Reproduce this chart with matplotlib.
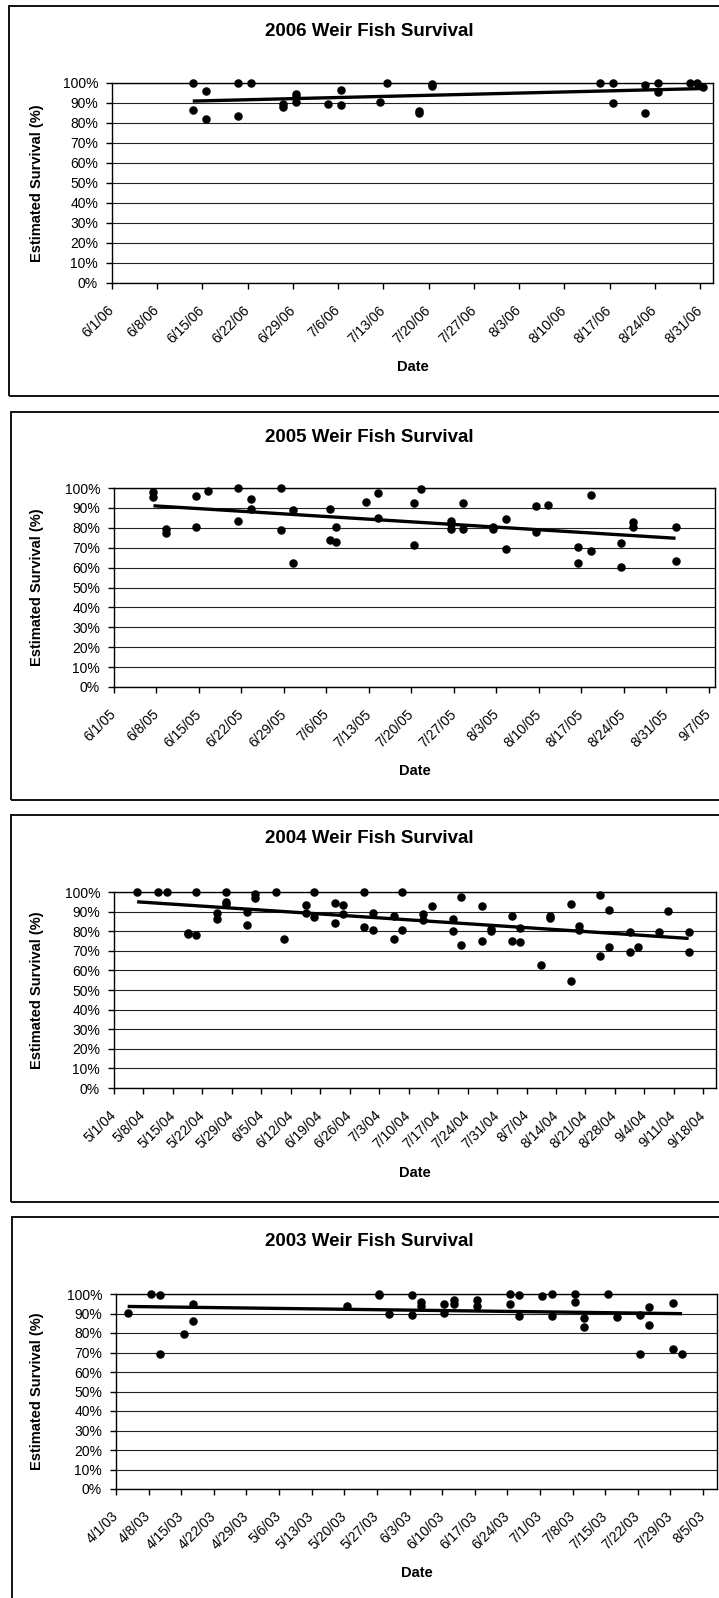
import numpy as np
import matplotlib
matplotlib.use("Agg")
import matplotlib.pyplot as plt
import matplotlib.dates as mdates
from matplotlib.patches import Rectangle
from matplotlib.ticker import FuncFormatter
from datetime import date

plt.rcParams['font.family'] = ['Liberation Sans', 'DejaVu Sans']

# 2006 survey
dates_2006 = ['2006-06-13', '2006-06-13', '2006-06-15', '2006-06-15', '2006-06-20', '2006-06-20',
              '2006-06-22', '2006-06-27', '2006-06-27', '2006-06-29', '2006-06-29', '2006-06-29',
              '2006-07-04', '2006-07-06', '2006-07-06', '2006-07-12', '2006-07-13', '2006-07-18',
              '2006-07-18', '2006-07-20', '2006-07-20', '2006-08-15', '2006-08-17', '2006-08-17',
              '2006-08-22', '2006-08-22', '2006-08-24', '2006-08-24', '2006-08-29', '2006-08-30',
              '2006-08-31']
surv_2006 = [100, 86.6, 96.2, 82, 100, 83.6,
             100, 89.5, 88, 94.5, 93, 90.5,
             89.5, 96.5, 88.8, 90.5, 100, 86,
             84.8, 99.5, 98.5, 100, 100, 90,
             99, 84.8, 100, 95.7, 100, 100,
             98.2]

# 2005 survey
dates_2005 = ['2005-06-07', '2005-06-07', '2005-06-09', '2005-06-09', '2005-06-14', '2005-06-14',
              '2005-06-16', '2005-06-21', '2005-06-21', '2005-06-23', '2005-06-23', '2005-06-28',
              '2005-06-28', '2005-06-30', '2005-06-30', '2005-07-06', '2005-07-06', '2005-07-07',
              '2005-07-07', '2005-07-12', '2005-07-14', '2005-07-14', '2005-07-20', '2005-07-20',
              '2005-07-21', '2005-07-26', '2005-07-26', '2005-07-26', '2005-07-28', '2005-07-28',
              '2005-08-02', '2005-08-02', '2005-08-04', '2005-08-04', '2005-08-09', '2005-08-09',
              '2005-08-11', '2005-08-16', '2005-08-16', '2005-08-18', '2005-08-18', '2005-08-23',
              '2005-08-23', '2005-08-25', '2005-08-25', '2005-09-01', '2005-09-01']
surv_2005 = [98.2, 95.5, 79.6, 77.6, 96, 80.4,
             98.5, 100, 83.2, 94.6, 89.6, 100,
             78.7, 89.1, 62.5, 89.6, 74, 80.4,
             72.7, 93, 97.7, 84.8, 92.6, 71.5,
             99.7, 83.6, 82, 79.2, 92.3, 79.2,
             80.6, 79.2, 84.4, 69.3, 91, 77.7,
             91.3, 70.2, 62.5, 96.6, 68.3, 72.4,
             60.3, 82.9, 80.4, 80.4, 63.3]

# 2004 survey
dates_2004 = ['2004-05-06', '2004-05-11', '2004-05-13', '2004-05-18', '2004-05-18', '2004-05-20',
              '2004-05-20', '2004-05-25', '2004-05-25', '2004-05-27', '2004-05-27', '2004-05-27',
              '2004-06-01', '2004-06-01', '2004-06-03', '2004-06-03', '2004-06-08', '2004-06-10',
              '2004-06-15', '2004-06-15', '2004-06-17', '2004-06-17', '2004-06-22', '2004-06-22',
              '2004-06-24', '2004-06-24', '2004-06-29', '2004-06-29', '2004-07-01', '2004-07-01',
              '2004-07-06', '2004-07-06', '2004-07-08', '2004-07-08', '2004-07-13', '2004-07-13',
              '2004-07-15', '2004-07-20', '2004-07-20', '2004-07-22', '2004-07-22', '2004-07-27',
              '2004-07-27', '2004-07-29', '2004-07-29', '2004-08-03', '2004-08-03', '2004-08-05',
              '2004-08-05', '2004-08-10', '2004-08-12', '2004-08-12', '2004-08-17', '2004-08-17',
              '2004-08-19', '2004-08-19', '2004-08-24', '2004-08-24', '2004-08-26', '2004-08-26',
              '2004-08-31', '2004-08-31', '2004-09-02', '2004-09-07', '2004-09-09', '2004-09-14',
              '2004-09-14']
surv_2004 = [100, 100, 100, 79, 78.5, 100,
             78, 89.5, 86.4, 100, 94.7, 93.9,
             89.6, 83.2, 98.8, 97.1, 100, 76,
             93.5, 89.3, 100, 87, 94.2, 84,
             93.5, 88.6, 100, 82.3, 89.5, 80.8,
             87.6, 75.9, 100, 80.4, 88.8, 85.7,
             92.7, 86.4, 79.9, 97.6, 72.8, 92.7,
             75, 81.3, 80.1, 87.9, 75, 81.6,
             74.5, 62.6, 87.8, 86.9, 93.7, 54.4,
             82.7, 80.6, 98.6, 67.5, 90.6, 71.9,
             79.4, 69.2, 71.8, 79.4, 90.3, 79.6,
             69.4]

# 2003 survey
dates_2003 = ['2003-04-03', '2003-04-08', '2003-04-10', '2003-04-10', '2003-04-15', '2003-04-17',
              '2003-04-17', '2003-05-20', '2003-05-27', '2003-05-27', '2003-05-29', '2003-06-03',
              '2003-06-03', '2003-06-05', '2003-06-05', '2003-06-10', '2003-06-10', '2003-06-12',
              '2003-06-12', '2003-06-17', '2003-06-17', '2003-06-24', '2003-06-24', '2003-06-26',
              '2003-06-26', '2003-07-01', '2003-07-03', '2003-07-03', '2003-07-08', '2003-07-08',
              '2003-07-10', '2003-07-10', '2003-07-15', '2003-07-17', '2003-07-22', '2003-07-22',
              '2003-07-24', '2003-07-24', '2003-07-29', '2003-07-29', '2003-07-31']
surv_2003 = [90.1, 100, 99.5, 69.4, 79.3, 95,
             86.3, 93.7, 100, 99.5, 89.6, 99.7,
             89.4, 96, 93.7, 94.7, 90.1, 97.1,
             94.7, 97, 93.8, 100, 95, 99.3,
             88.7, 99, 100, 88.9, 100, 95.9,
             87.7, 82.9, 100, 88, 89.4, 69.2,
             93.3, 84.3, 95.4, 72, 69.1]

titles = ["2006 Weir Fish Survival", "2005 Weir Fish Survival",
          "2004 Weir Fish Survival", "2003 Weir Fish Survival"]
axis_start = [date(2006, 6, 1), date(2005, 6, 1), date(2004, 5, 1), date(2003, 4, 1)]
axis_end = [date(2006, 9, 2), date(2005, 9, 8), date(2004, 9, 21), date(2003, 8, 8)]

# layout in pixels: panel box top/bottom/left, plot top/bottom/left/right, title y, "Date" y
layout = [
    (6, 396, 9, 83, 283, 112, 713, 31, 367),
    (412, 800, 11, 488, 687, 114, 715, 437, 771),
    (815, 1202, 11, 892, 1088, 114, 716, 839, 1173),
    (1217, 1605, 12, 1294, 1489, 116, 717, 1241, 1573),
]

W, H = 719, 1598
fig = plt.figure(figsize=(W / 100, H / 100), dpi=100)


def date_label(x, pos):
    d = mdates.num2date(x)
    return f"{d.month}/{d.day}/{d:%y}"


series = [(dates_2006, surv_2006), (dates_2005, surv_2005),
          (dates_2004, surv_2004), (dates_2003, surv_2003)]

for (dts, vals), title, start, end, lay in zip(series, titles, axis_start, axis_end, layout):
    ptop, pbot, pleft, atop, abot, aleft, aright, ty, dy = lay
    # chart border (right side runs off the image like the original)
    fig.patches.append(Rectangle((pleft / W, 1 - pbot / H), (730 - pleft) / W, (pbot - ptop) / H,
                                 transform=fig.transFigure, fill=False,
                                 edgecolor='#111111', linewidth=1.4))
    ax = fig.add_axes([aleft / W, 1 - abot / H, (aright - aleft) / W, (abot - atop) / H])

    # excel date axis puts points in the middle of the day
    x = mdates.date2num([date.fromisoformat(d) for d in dts]) + 0.5
    y = np.array(vals)
    ax.scatter(x, y, s=26, color='black', zorder=3, clip_on=False)

    # linear trendline
    k, b = np.polyfit(x, y, 1)
    xt = np.array([x.min(), x.max()])
    ax.plot(xt, k * xt + b, color='black', linewidth=2.4, zorder=4, solid_capstyle='butt')

    x0, x1 = mdates.date2num(start), mdates.date2num(end)
    ax.set_xlim(x0, x1)
    ax.set_xticks(np.arange(x0, x1 + 0.01, 7))
    ax.xaxis.set_major_formatter(FuncFormatter(date_label))
    ax.set_ylim(0, 100)
    ax.set_yticks(range(0, 101, 10))
    ax.yaxis.set_major_formatter(FuncFormatter(lambda v, p: f"{int(v)}%"))
    ax.grid(axis='y', color='#222222', linewidth=0.8)
    ax.set_axisbelow(True)
    for s in ax.spines.values():
        s.set_color('black')
        s.set_linewidth(1.0)
    ax.tick_params(axis='x', direction='out', length=4, width=1, labelsize=10, pad=14)
    ax.tick_params(axis='y', direction='out', length=4, width=1, labelsize=10, pad=6)
    for lbl in ax.get_xticklabels():
        lbl.set_rotation(45)
        lbl.set_ha('right')
        lbl.set_va('center')
        lbl.set_rotation_mode('anchor')

    fig.text(369 / W, 1 - ty / H, title, ha='center', va='center', fontsize=13.5, fontweight='bold')
    fig.text((aleft + aright) / 2 / W, 1 - dy / H, "Date", ha='center', va='center',
             fontsize=10.5, fontweight='bold')
    fig.text(37 / W, 1 - (atop + abot) / 2 / H, "Estimated Survival (%)", ha='center', va='center',
             rotation=90, fontsize=10.5, fontweight='bold')

fig.savefig('out.png', dpi=100)
